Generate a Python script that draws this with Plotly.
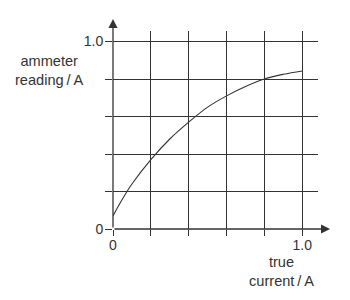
import plotly.graph_objects as go

# data
true_current = [0.0, 0.05, 0.1, 0.2, 0.3, 0.4, 0.5, 0.6, 0.7, 0.8, 0.9, 1.0]
ammeter_reading = [0.07, 0.16, 0.24, 0.37, 0.48, 0.57, 0.65, 0.71, 0.76, 0.80, 0.825, 0.843]
tick_vals = [0, 0.2, 0.4, 0.6, 0.8, 1.0]
tick_text = ["0", "", "", "", "", "1.0"]

INK = "#333333"
FONT = dict(family="Liberation Sans", size=14, color=INK)
TITLE_FONT = dict(family="Liberation Sans", size=14.6, color=INK)

fig = go.Figure()
fig.add_trace(go.Scatter(x=true_current, y=ammeter_reading, mode="lines",
                         line=dict(color=INK, width=1.1, shape="spline", smoothing=1.0),
                         hoverinfo="skip", showlegend=False))

fig.update_layout(
    width=350, height=300,
    margin=dict(l=113.3, r=32, t=31, b=71),
    paper_bgcolor="white", plot_bgcolor="white",
    font=FONT,
    showlegend=False,
    xaxis=dict(range=[0, 1.083], tickvals=tick_vals, ticktext=tick_text,
               showgrid=True, gridcolor=INK, gridwidth=1.3, zeroline=False,
               showline=False, ticks="outside", ticklen=6, tickwidth=1.3,
               tickcolor=INK, tickfont=FONT, ticklabelstandoff=-3, fixedrange=True),
    yaxis=dict(range=[0, 1.056], tickvals=tick_vals, ticktext=tick_text,
               showgrid=True, gridcolor=INK, gridwidth=1.3, zeroline=False,
               showline=False, ticks="outside", ticklen=7, tickwidth=1.3,
               tickcolor=INK, tickfont=FONT, ticklabelstandoff=-1, fixedrange=True),
)

# axis lines with arrows
fig.add_annotation(x=1.147, y=0, ax=0, ay=0, xref="x", yref="y", axref="x", ayref="y",
                   text="", showarrow=True, arrowhead=2, arrowsize=1.4,
                   arrowwidth=1.3, arrowcolor=INK)
fig.add_annotation(x=0, y=1.12, ax=0, ay=0, xref="x", yref="y", axref="x", ayref="y",
                   text="", showarrow=True, arrowhead=2, arrowsize=1.4,
                   arrowwidth=1.3, arrowcolor=INK)

# axis titles
fig.add_annotation(x=-0.309, y=0.798, xref="paper", yref="paper", xanchor="center", yanchor="middle",
                   text="ammeter<br>reading\u2009/\u2009A", showarrow=False, font=TITLE_FONT, align="center")
fig.add_annotation(x=0.824, y=-0.217, xref="paper", yref="paper", xanchor="center", yanchor="middle",
                   text="true<br>current\u2009/\u2009A", showarrow=False, font=TITLE_FONT, align="center")

fig.write_html("out.html")
